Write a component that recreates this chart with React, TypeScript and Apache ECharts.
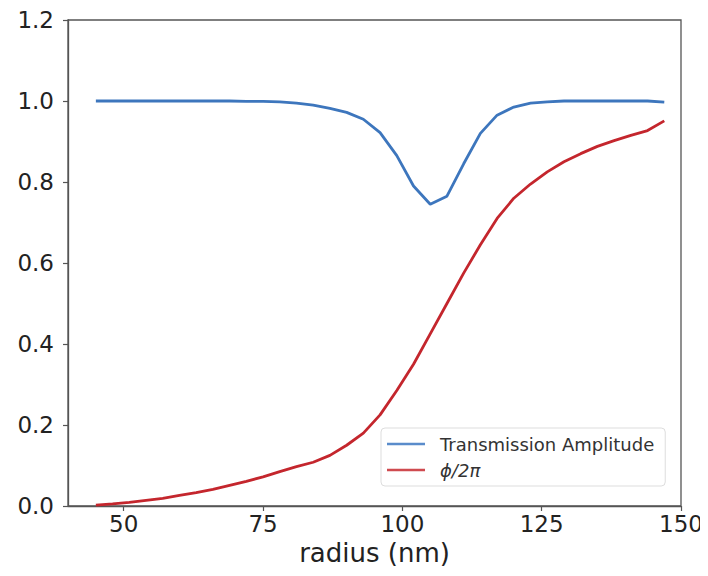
import React, { useEffect, useRef } from "react";
import * as echarts from "echarts";

const radius = [45, 48, 51, 54, 57, 60, 63, 66, 69, 72, 75, 78, 81, 84, 87, 90, 93, 96, 99, 102, 105, 108, 111, 114, 117, 120, 123, 126, 129, 132, 135, 138, 141, 144, 147];
const transmission = [1.0, 1.0, 1.0, 1.0, 1.0, 1.0, 1.0, 1.0, 1.0, 0.999, 0.999, 0.998, 0.995, 0.99, 0.982, 0.972, 0.955, 0.922, 0.865, 0.79, 0.745, 0.765, 0.845, 0.92, 0.965, 0.985, 0.995, 0.998, 1.0, 1.0, 1.0, 1.0, 1.0, 1.0, 0.997];
const phase = [0.002, 0.005, 0.009, 0.014, 0.019, 0.026, 0.033, 0.041, 0.051, 0.061, 0.072, 0.085, 0.097, 0.108, 0.125, 0.15, 0.18, 0.225, 0.285, 0.35, 0.425, 0.5, 0.575, 0.645, 0.71, 0.76, 0.795, 0.825, 0.85, 0.87, 0.888, 0.902, 0.915, 0.927, 0.951];
const xTicks = [50, 75, 100, 125, 150];
const seriesNames = ["Transmission Amplitude", "ϕ/2π"];

export default function App() {
  const ref = useRef<HTMLDivElement>(null);
  useEffect(() => {
    if (!ref.current) return;
    const chart = echarts.init(ref.current, null, { renderer: "svg" });
    const font = "DejaVu Sans";
    chart.setOption({
      animation: false,
      backgroundColor: "#ffffff",
      grid: {
        left: 68,
        right: 27,
        top: 20,
        bottom: 70,
        show: true,
        borderColor: "#555",
        borderWidth: 1.3,
      },
      xAxis: {
        type: "value",
        min: 40,
        max: 150,
        name: "radius (nm)",
        nameLocation: "middle",
        nameGap: 32,
        nameTextStyle: { fontFamily: font, fontSize: 26, color: "#222" },
        axisLine: { show: true, lineStyle: { color: "#555", width: 1.3 } },
        axisTick: { show: true, length: 5, customValues: xTicks, lineStyle: { color: "#555", width: 1.2 } },
        axisLabel: {
          customValues: xTicks,
          fontFamily: font,
          fontSize: 23,
          color: "#222",
          margin: 6,
        },
        splitLine: { show: false },
      },
      yAxis: {
        type: "value",
        min: 0,
        max: 1.2,
        interval: 0.2,
        axisLine: { show: true, lineStyle: { color: "#555", width: 1.3 } },
        axisTick: { show: true, length: 5, lineStyle: { color: "#555", width: 1.2 } },
        axisLabel: {
          fontFamily: font,
          fontSize: 23,
          color: "#222",
          margin: 14,
          formatter: (v: number) => v.toFixed(1),
        },
        splitLine: { show: false },
      },
      legend: {
        orient: "vertical",
        left: 381,
        top: 428,
        data: seriesNames.map((n, i) => ({
          name: n,
          icon: "rect",
          itemStyle: { color: i === 0 ? "#5a8ccb" : "#cf4a4f" },
        })),
        backgroundColor: "#fff",
        borderColor: "#ddd",
        borderWidth: 1,
        borderRadius: 4,
        padding: [7, 11, 7, 6],
        itemWidth: 38,
        itemHeight: 2.5,
        itemGap: 8,
        textStyle: {
          fontFamily: font,
          fontSize: 18,
          color: "#333",
          padding: [0, 0, 0, 10],
          rich: {
            it: { fontFamily: font, fontSize: 18, color: "#333", fontStyle: "italic" },
          },
        },
        formatter: (name: string) => (name === seriesNames[1] ? `{it|${name}}` : name),
      },
      series: [
        {
          name: seriesNames[0],
          type: "line",
          data: radius.map((r, i) => [r, transmission[i]]),
          symbol: "none",
          lineStyle: { color: "#3d76bd", width: 2.8 },
          itemStyle: { color: "#5a8ccb" },
        },
        {
          name: seriesNames[1],
          type: "line",
          data: radius.map((r, i) => [r, phase[i]]),
          symbol: "none",
          lineStyle: { color: "#c4262d", width: 2.8 },
          itemStyle: { color: "#cf4a4f" },
        },
      ],
    });
    return () => chart.dispose();
  }, []);
  return <div ref={ref} style={{ width: 708, height: 576, margin: -8 }} />;
}
